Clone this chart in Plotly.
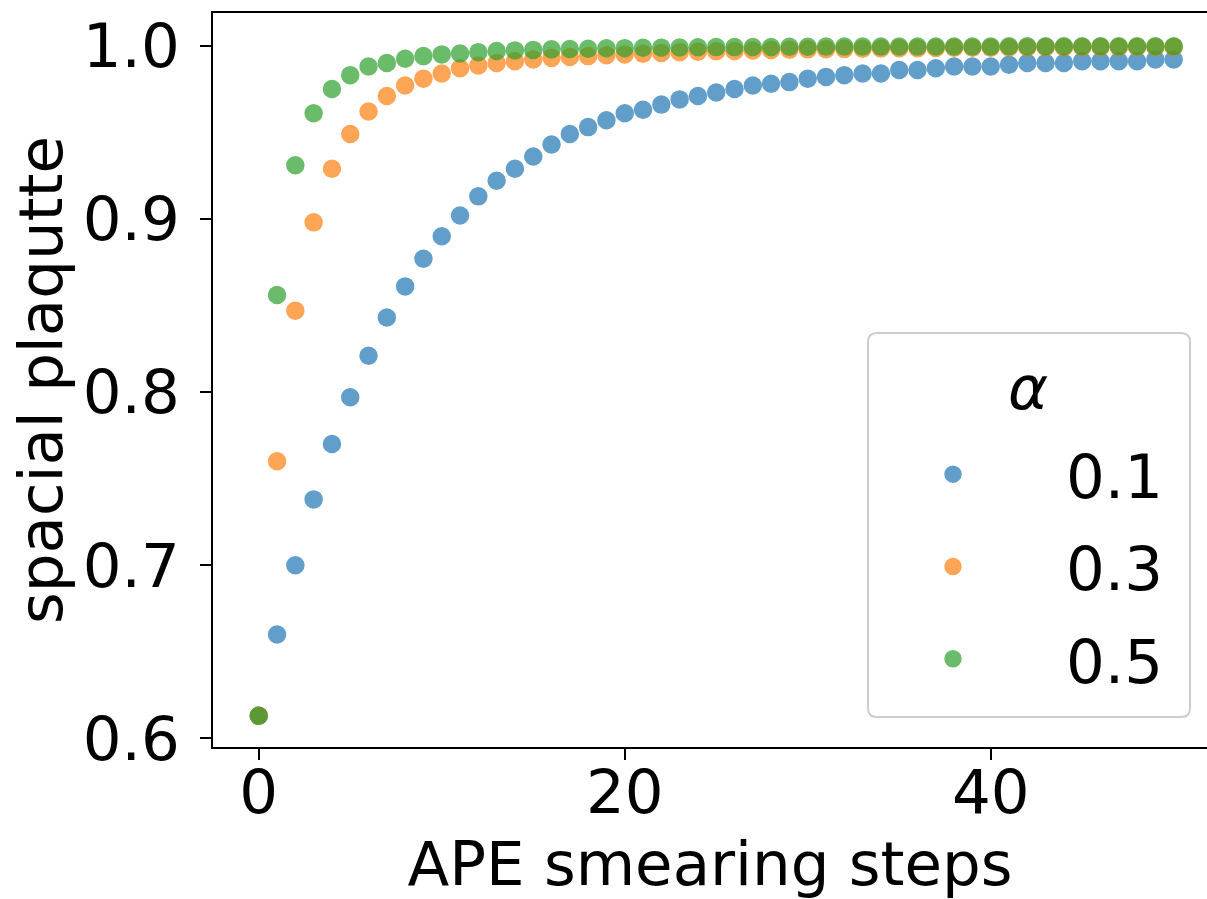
import plotly.graph_objects as go

steps = list(range(51))

alpha_labels = ["0.1", "0.3", "0.5"]
colors = ["#1f77b4", "#ff7f0e", "#2ca02c"]

plaq_01 = [0.613, 0.660, 0.700, 0.738, 0.770, 0.797, 0.821, 0.843, 0.861, 0.877,
           0.890, 0.902, 0.913, 0.922, 0.929, 0.936, 0.943, 0.949, 0.953, 0.957,
           0.961, 0.963, 0.966, 0.969, 0.971, 0.973, 0.975, 0.977, 0.978, 0.979,
           0.981, 0.982, 0.983, 0.984, 0.984, 0.986, 0.986, 0.987, 0.988, 0.988,
           0.988, 0.989, 0.990, 0.990, 0.990, 0.991, 0.991, 0.991, 0.991, 0.992,
           0.992]

plaq_03 = [0.613, 0.760, 0.847, 0.898, 0.929, 0.949, 0.962, 0.971, 0.977, 0.981,
           0.984, 0.987, 0.9886, 0.990, 0.991, 0.992, 0.993, 0.9935, 0.994, 0.9945,
           0.995, 0.9954, 0.9958, 0.9962, 0.9965, 0.9968, 0.997, 0.9973, 0.9975, 0.9977,
           0.9979, 0.998, 0.9982, 0.9983, 0.9984, 0.9985, 0.9986, 0.9987, 0.9988, 0.9988,
           0.9989, 0.999, 0.999, 0.9991, 0.9991, 0.9992, 0.9992, 0.9992, 0.9993, 0.9993,
           0.9993]

plaq_05 = [0.613, 0.856, 0.931, 0.961, 0.975, 0.983, 0.988, 0.990, 0.9925, 0.994,
           0.995, 0.9955, 0.9963, 0.997, 0.9973, 0.9976, 0.9979, 0.9981, 0.9983, 0.9985,
           0.9986, 0.9988, 0.9989, 0.999, 0.9991, 0.9992, 0.9992, 0.9993, 0.9993, 0.9994,
           0.9994, 0.9995, 0.9995, 0.9995, 0.9995, 0.9996, 0.9996, 0.9996, 0.9996, 0.9996,
           0.9996, 0.9997, 0.9997, 0.9997, 0.9997, 0.9997, 0.9997, 0.9997, 0.9997, 0.9997,
           0.9997]

series = [plaq_01, plaq_03, plaq_05]

x_ticks = [0, 20, 40]
y_ticks = [0.6, 0.7, 0.8, 0.9, 1.0]

FONT = "DejaVu Sans"
FS = 61

W, H = 1207, 899
ML, MR, MT, MB = 213, 0, 13, 152
PW, PH = W - ML - MR, H - MT - MB


def px2paper(px, py):
    return (px - ML) / PW, (H - MB - py) / PH


fig = go.Figure()
for lab, col, vals in zip(alpha_labels, colors, series):
    fig.add_trace(go.Scatter(
        x=steps, y=vals, mode="markers", name=lab, legendgroup=lab,
        marker=dict(size=17, color=col, opacity=0.7,
                    line=dict(color=col, width=1.5)),
    ))

# rounded legend frame (matplotlib style)
bx0, by0, bx1, by1, r = 868, 333, 1190, 717, 9


def P(px, py):
    x, y = px2paper(px, py)
    return f"{x:.5f},{y:.5f}"


path = (f"M {P(bx0 + r, by0)} L {P(bx1 - r, by0)} Q {P(bx1, by0)} {P(bx1, by0 + r)} "
        f"L {P(bx1, by1 - r)} Q {P(bx1, by1)} {P(bx1 - r, by1)} "
        f"L {P(bx0 + r, by1)} Q {P(bx0, by1)} {P(bx0, by1 - r)} "
        f"L {P(bx0, by0 + r)} Q {P(bx0, by0)} {P(bx0 + r, by0)} Z")
fig.add_shape(type="path", xref="paper", yref="paper", path=path,
              fillcolor="rgba(255,255,255,0.8)", line=dict(color="#cccccc", width=2),
              layer="above")

ax, ay = px2paper(1028, 387)
fig.add_annotation(x=ax, y=ay, xref="paper", yref="paper", text="<i>α</i>",
                   showarrow=False, xanchor="center", yanchor="middle",
                   font=dict(family=FONT, size=FS, color="black"))

lx, ly = px2paper(840, 428)
fig.update_layout(
    width=W, height=H, autosize=False,
    margin=dict(l=ML, r=MR, t=MT, b=MB, pad=0),
    paper_bgcolor="white", plot_bgcolor="white",
    font=dict(family=FONT, size=FS, color="black"),
    showlegend=True,
    legend=dict(
        x=lx, y=ly, xanchor="left", yanchor="top",
        bgcolor="rgba(0,0,0,0)", borderwidth=0,
        font=dict(family=FONT, size=FS, color="black"),
        itemwidth=216, tracegroupgap=10, traceorder="grouped",
    ),
)

fig.update_xaxes(
    range=[-2.5, 51.82], tickvals=x_ticks, ticktext=[str(v) for v in x_ticks],
    showgrid=False, zeroline=False,
    showline=True, linecolor="black", linewidth=2, mirror=True,
    ticks="outside", ticklen=11, tickwidth=2, tickcolor="black",
    title=dict(text="APE smearing steps", font=dict(family=FONT, size=FS), standoff=30),
    tickfont=dict(family=FONT, size=FS), ticklabelstandoff=-20,
)
fig.update_yaxes(
    range=[0.595, 1.0189], tickvals=y_ticks, ticktext=[f"{v:.1f}" for v in y_ticks],
    showgrid=False, zeroline=False,
    showline=True, linecolor="black", linewidth=2, mirror=False,
    ticks="outside", ticklen=11, tickwidth=2, tickcolor="black",
    title=dict(text="spacial plaqutte", font=dict(family=FONT, size=FS), standoff=0),
    tickfont=dict(family=FONT, size=FS), ticklabelstandoff=8,
)

fig.write_html("out.html")
